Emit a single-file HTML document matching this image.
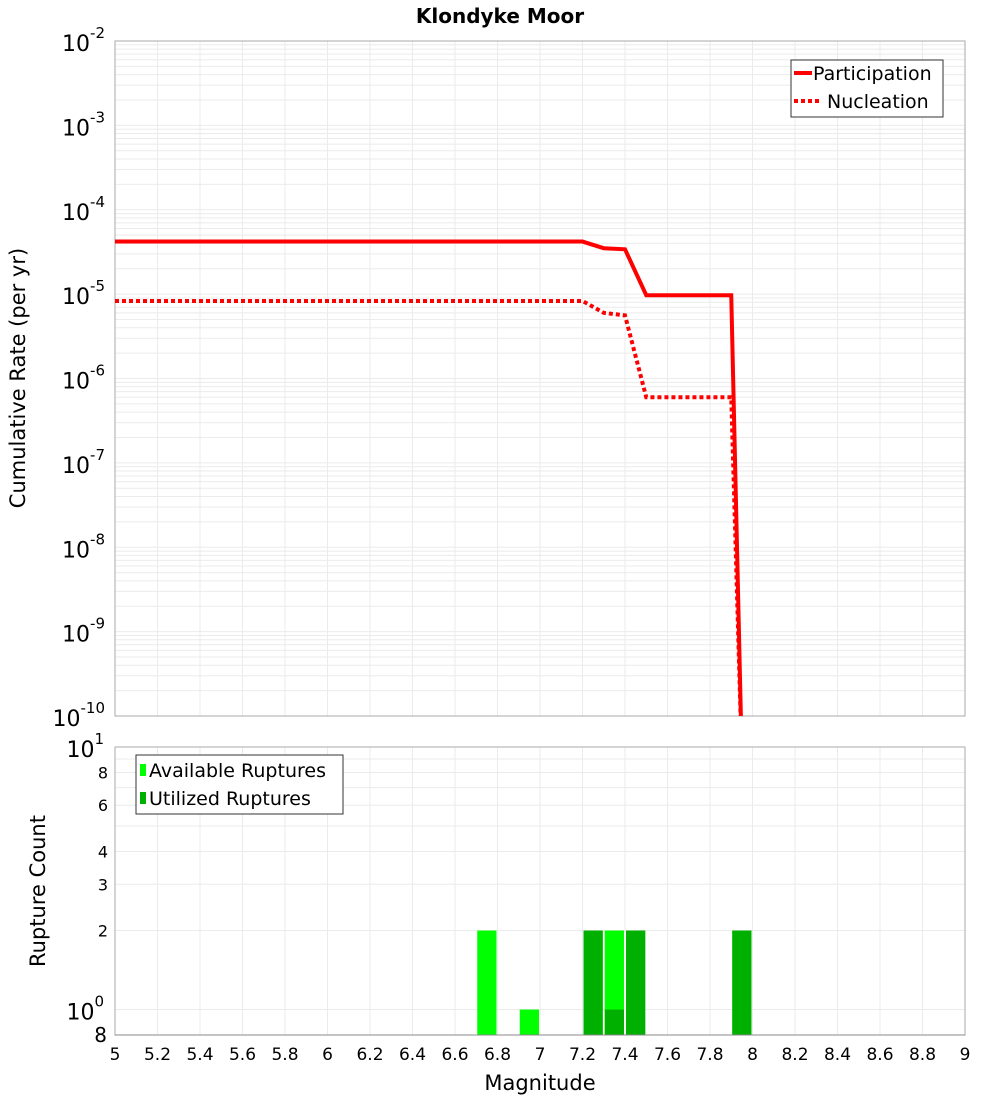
<!DOCTYPE html>
<html><head><meta charset="utf-8"><style>
body{margin:0;background:#fff;}
svg text{font-family:"DejaVu Sans","Liberation Sans",sans-serif;}
</style></head><body>
<svg id="chart" width="1000" height="1100" xmlns="http://www.w3.org/2000/svg">
<text x="500" y="23" text-anchor="middle" font-size="20" font-weight="bold">Klondyke Moor</text>
<g id="topPlot"></g>
<g id="botPlot"></g>
</svg>
<script>
const partMags = [5, 7.2, 7.3, 7.4, 7.5, 7.9, 7.95];
const partRates = [4.2e-5, 4.2e-5, 3.5e-5, 3.4e-5, 9.7e-6, 9.7e-6, 3e-11];
const nuclMags = [5, 7.2, 7.3, 7.4, 7.5, 7.9, 7.95];
const nuclRates = [8.3e-6, 8.3e-6, 6e-6, 5.6e-6, 6e-7, 6e-7, 3e-11];
const barMags = [6.75, 6.95, 7.25, 7.35, 7.45, 7.95];
const availCounts = [2, 1, 2, 2, 2, 2];
const usedCounts = [0, 0, 2, 1, 2, 2];
const xTicks = [5,5.2,5.4,5.6,5.8,6,6.2,6.4,6.6,6.8,7,7.2,7.4,7.6,7.8,8,8.2,8.4,8.6,8.8,9];
const topExps = [-2,-3,-4,-5,-6,-7,-8,-9,-10];
const botTickVals = [8,6,4,3,2];

const NS="http://www.w3.org/2000/svg";
function mk(tag,attrs,parent,txt){const e=document.createElementNS(NS,tag);for(const k in attrs)e.setAttribute(k,attrs[k]);if(txt!==undefined)e.textContent=txt;parent.appendChild(e);return e;}
const L=115,R=965;
const X=m=>L+(m-5)/4*(R-L);
const T0=41,T1=716;
const YT=v=>T0+(-2-Math.log10(v))/8*(T1-T0);
const B0=747,B1=1035;
const YB=v=>B0+(1-Math.log10(v))/(1-Math.log10(0.8))*(B1-B0);
const topG=document.getElementById('topPlot'), botG=document.getElementById('botPlot');

// top grid
for(let d=-10;d<-2;d++){for(let k=1;k<10;k++){const y=YT(k*Math.pow(10,d));
 const g=mk('line',{x1:L,x2:R,y1:y,y2:y,stroke:'#ebebeb','stroke-width':1},topG);
 
 }}
xTicks.forEach(m=>{const g=mk('line',{x1:X(m),x2:X(m),y1:T0,y2:T1,stroke:'#ebebeb'},topG);
 
 });
const tf=mk('rect',{x:L,y:T0,width:R-L,height:T1-T0,fill:'none',stroke:'#aaa'},topG);


topExps.forEach(e=>{const t=mk('text',{x:105,y:YT(Math.pow(10,e))+10,'text-anchor':'end','font-size':22},topG);
 
 
 t.appendChild(document.createTextNode('10'));mk('tspan',{dy:-13,'font-size':15},t,String(e));});
const yt=mk('text',{x:25,y:378,'text-anchor':'middle','font-size':21,transform:'rotate(-90 25 378)'},topG,'Cumulative Rate (per yr)');


const clip=mk('clipPath',{id:'ct'},topG);mk('rect',{x:L,y:T0,width:R-L,height:T1-T0},clip);
function line(mags,vals,dash,name){const p=mags.map((m,i)=>X(m)+','+YT(vals[i])).join(' ');
 const a={points:p,fill:'none',stroke:'#ff0000','stroke-width':4,'clip-path':'url(#ct)'};if(dash)a['stroke-dasharray']=dash;
 const e=mk('polyline',a,topG);
 
 }
line(partMags,partRates,null,'participation-line');
line(nuclMags,nuclRates,'4,3','nucleation-line');
const lg=mk('g',{},topG);


mk('rect',{x:791,y:60,width:152,height:57,fill:'#fff',stroke:'#333'},lg);
mk('line',{x1:794,x2:812,y1:73,y2:73,stroke:'#f00','stroke-width':4},lg);
mk('text',{x:813,y:80,'font-size':19},lg,'Participation');
mk('line',{x1:794,x2:822,y1:101,y2:101,stroke:'#f00','stroke-width':4,'stroke-dasharray':'4,3'},lg);
mk('text',{x:827,y:108,'font-size':19},lg,'Nucleation');

// bottom grid
for(let k=1;k<=10;k++){const y=YB(k);const g=mk('line',{x1:L,x2:R,y1:y,y2:y,stroke:'#ebebeb'},botG);
 
 }
xTicks.forEach(m=>{const g=mk('line',{x1:X(m),x2:X(m),y1:B0,y2:B1,stroke:'#ebebeb'},botG);
 
 });
const bw=(X(5.1)-X(5))-2;
barMags.forEach((m,i)=>{
 const r=mk('rect',{x:X(m)-bw/2,y:YB(availCounts[i]),width:bw,height:B1-YB(availCounts[i]),fill:'#00ff00'},botG);
 
 
 if(usedCounts[i]>0){const u=mk('rect',{x:X(m)-bw/2,y:YB(usedCounts[i]),width:bw,height:B1-YB(usedCounts[i]),fill:'#00b000'},botG);
 
 }});
const bf=mk('rect',{x:L,y:B0,width:R-L,height:B1-B0,fill:'none',stroke:'#aaa'},botG);


mk('line',{x1:L,x2:R,y1:B1,y2:B1,stroke:'#888'},botG);
[[10,'1'],[1,'0']].forEach(([v,e])=>{const t=mk('text',{x:104,y:YB(v)+10,'text-anchor':'end','font-size':22},botG);
 
 
 t.appendChild(document.createTextNode('10'));mk('tspan',{dy:-13,'font-size':15},t,e);});
botTickVals.forEach(v=>{const t=mk('text',{x:108,y:YB(v)+6,'text-anchor':'end','font-size':16},botG,String(v));
 
 });
const t8=mk('text',{x:107,y:1042,'text-anchor':'end','font-size':20},botG,'8');


const yb=mk('text',{x:45,y:891,'text-anchor':'middle','font-size':21,transform:'rotate(-90 45 891)'},botG,'Rupture Count');


xTicks.forEach(m=>{const t=mk('text',{x:X(m),y:1060,'text-anchor':'middle','font-size':17},botG,String(m));
 
 });
const xt=mk('text',{x:540,y:1090,'text-anchor':'middle','font-size':21},botG,'Magnitude');


const bl=mk('g',{},botG);


mk('rect',{x:136,y:755,width:207,height:59,fill:'#fff',stroke:'#333'},bl);
mk('rect',{x:140,y:764,width:6,height:12,fill:'#00ff00'},bl);
mk('text',{x:149,y:777,'font-size':19},bl,'Available Ruptures');
mk('rect',{x:140,y:792,width:6,height:12,fill:'#00b000'},bl);
mk('text',{x:149,y:805,'font-size':19},bl,'Utilized Ruptures');
</script>
</body></html>
